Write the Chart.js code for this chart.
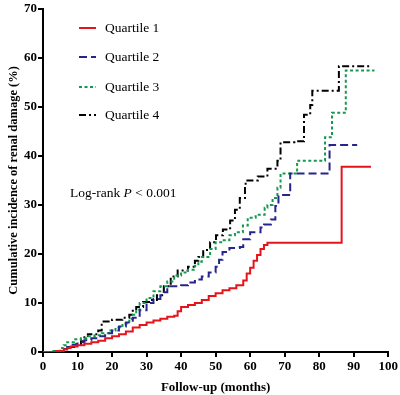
<!DOCTYPE html>
<html>
<head>
<meta charset="utf-8">
<script src="https://cdn.jsdelivr.net/npm/chart.js@4"></script>
<style>
  body { margin:0; background:#fff; }
  #wrap { width:400px; height:395px; }
</style>
</head>
<body>
<div id="wrap"><canvas id="km" width="400" height="395"></canvas></div>
<script>
// Data (months, cumulative incidence %)
const q1Months = [0, 4, 6, 7, 8, 10, 12, 14, 16, 18, 20, 22, 24, 26, 28, 30, 32, 34, 36, 38, 39, 40, 42, 44, 46, 48, 50, 52, 54, 56, 58, 59, 60, 61, 62, 63, 64, 65, 66, 86.5, 95];
const q1Values = [0, 0.2, 0.5, 0.8, 1.1, 1.4, 1.7, 2.0, 2.3, 2.8, 3.2, 3.6, 4.2, 5.0, 5.5, 6.0, 6.4, 6.8, 7.2, 7.4, 8.3, 9.2, 9.6, 10.0, 10.6, 11.4, 12.0, 12.6, 13.0, 13.6, 14.6, 16.0, 17.2, 18.6, 19.8, 21.0, 21.8, 22.3, 22.3, 37.8, 37.8];

const q2Months = [0, 4, 6, 7, 8, 10, 12, 14, 16, 18, 20, 22, 24, 26, 28, 30, 32, 34, 35, 36, 40, 42, 44, 46, 48, 50, 51, 52, 54, 57, 58, 60, 63, 64, 66, 67.3, 68.2, 71.6, 83, 91];
const q2Values = [0, 0.2, 0.6, 1.0, 1.5, 2.0, 2.4, 2.8, 3.2, 3.8, 4.4, 5.2, 6.0, 7.0, 8.5, 10.0, 10.8, 11.6, 12.2, 13.4, 13.6, 14.2, 14.8, 15.4, 16.2, 17.4, 18.8, 20.4, 21.2, 21.4, 23.0, 24.4, 25.4, 26.0, 27.0, 29.8, 32.0, 36.4, 42.2, 42.2];

const q3Months = [0, 3, 5, 6, 7, 9, 11, 13, 15, 17, 19, 21, 23, 25, 26, 27, 28, 30, 32, 34, 36, 38, 40, 42, 44, 45, 46, 48.4, 50, 51.6, 54, 55.6, 57.9, 59.3, 61.6, 64.2, 65, 66.5, 67.9, 68.8, 73.6, 81.7, 83.7, 87.7, 96];
const q3Values = [0, 0.2, 0.8, 1.4, 2.0, 2.6, 2.8, 3.2, 3.4, 3.8, 4.4, 5.0, 5.8, 6.8, 7.6, 8.6, 10.0, 11.0, 12.4, 13.4, 14.4, 15.6, 16.2, 16.8, 17.6, 18.4, 19.4, 21.0, 22.4, 22.8, 23.8, 24.4, 25.8, 27.4, 28.0, 29.4, 30.0, 31.4, 33.5, 36.4, 39.0, 43.8, 48.8, 57.4, 57.4];

const q4Months = [0, 4, 6, 7, 9, 11, 12, 13, 16, 17, 20, 23, 25, 26, 27, 29, 31, 33, 35, 37, 39, 42, 44, 45, 46.4, 48.4, 50.1, 52.1, 54.2, 55.6, 57, 58.5, 58.7, 62.2, 65, 67.9, 68.8, 72.8, 75.6, 77.4, 78, 85.7, 94.8];
const q4Values = [0, 0.2, 0.6, 1.0, 1.6, 2.2, 3.0, 3.6, 4.4, 6.2, 6.6, 7.0, 7.6, 8.4, 9.2, 10.2, 10.6, 11.6, 13.4, 15.4, 16.6, 17.4, 18.6, 19.4, 20.8, 22.4, 23.8, 25.0, 26.8, 29.0, 31.4, 33.8, 35.0, 35.8, 37.4, 39.0, 42.8, 43.0, 48.4, 50.4, 53.3, 58.3, 58.3];

const seriesNames = ['Quartile 1', 'Quartile 2', 'Quartile 3', 'Quartile 4'];
const xTicks = [0, 10, 20, 30, 40, 50, 60, 70, 80, 90, 100];
const yTicks = [0, 10, 20, 30, 40, 50, 60, 70];

const colors = ['#e5141b', '#25258c', '#15984f', '#000000'];
const dashes = [[], [8, 4], [3, 2.5], [7, 3, 2, 3]];
const serif = "'Liberation Serif', 'Times New Roman', serif";

const pts = (m, v) => m.map((x, i) => ({x, y: v[i]}));
const series = [pts(q1Months, q1Values), pts(q2Months, q2Values), pts(q3Months, q3Values), pts(q4Months, q4Values)];

// legend + log-rank text drawn inside plot area
const overlay = {
  id: 'overlay',
  afterDraw(chart) {
    const c = chart.ctx;
    c.save();
    const ys = [28, 57, 87, 115];
    seriesNames.forEach((n, i) => {
      c.strokeStyle = colors[i];
      c.lineWidth = 2;
      c.setLineDash(dashes[i]);
      c.beginPath();
      c.moveTo(79, ys[i]);
      c.lineTo(96, ys[i]);
      c.stroke();
      c.setLineDash([]);
      c.fillStyle = '#000';
      c.font = '13.5px ' + serif;
      c.textBaseline = 'middle';
      c.fillText(n, 105, ys[i]);
    });
    // Log-rank P < 0.001
    let x = 70, y = 193;
    c.font = '13.5px ' + serif;
    c.fillText('Log-rank ', x, y);
    x += c.measureText('Log-rank ').width;
    c.font = 'italic 13.5px ' + serif;
    c.fillText('P', x, y);
    x += c.measureText('P').width;
    c.font = '13.5px ' + serif;
    c.fillText(' < 0.001', x, y);
    c.restore();
  }
};

new Chart(document.getElementById('km'), {
  type: 'line',
  data: {
    datasets: series.map((d, i) => ({
      label: seriesNames[i],
      data: d,
      borderColor: colors[i],
      borderDash: dashes[i],
      borderWidth: 2,
      stepped: 'before',
      pointRadius: 0,
      fill: false
    }))
  },
  options: {
    responsive: false,
    animation: false,
    layout: { padding: { top: 3, right: 8, left: 0, bottom: 0 } },
    plugins: { legend: { display: false }, tooltip: { enabled: false } },
    scales: {
      x: {
        type: 'linear', min: 0, max: 100,
        afterBuildTicks: s => { s.ticks = xTicks.map(v => ({value: v})); },
        afterFit: s => { s.height = 43; },
        grid: { drawOnChartArea: false, drawTicks: true, tickLength: 5, color: '#000', lineWidth: 2 },
        border: { color: '#000', width: 2 },
        ticks: { color: '#000', padding: 2, maxRotation: 0, font: { family: serif, size: 13, weight: 'bold' } },
        title: { display: true, text: 'Follow-up (months)', color: '#000', padding: { top: 0, bottom: 0 },
                 font: { family: serif, size: 13, weight: 'bold' } }
      },
      y: {
        min: 0, max: 70,
        afterBuildTicks: s => { s.ticks = yTicks.map(v => ({value: v})); },
        afterFit: s => { s.width = 43; },
        grid: { drawOnChartArea: false, drawTicks: true, tickLength: 5, color: '#000', lineWidth: 2 },
        border: { color: '#000', width: 2 },
        ticks: { color: '#000', padding: 1, font: { family: serif, size: 13, weight: 'bold' } },
        title: { display: true, text: 'Cumulative incidence of renal damage (%)', color: '#000', padding: { top: 6, bottom: 0 },
                 font: { family: serif, size: 12.5, weight: 'bold' } }
      }
    }
  },
  plugins: [overlay]
});
</script>
</body>
</html>
